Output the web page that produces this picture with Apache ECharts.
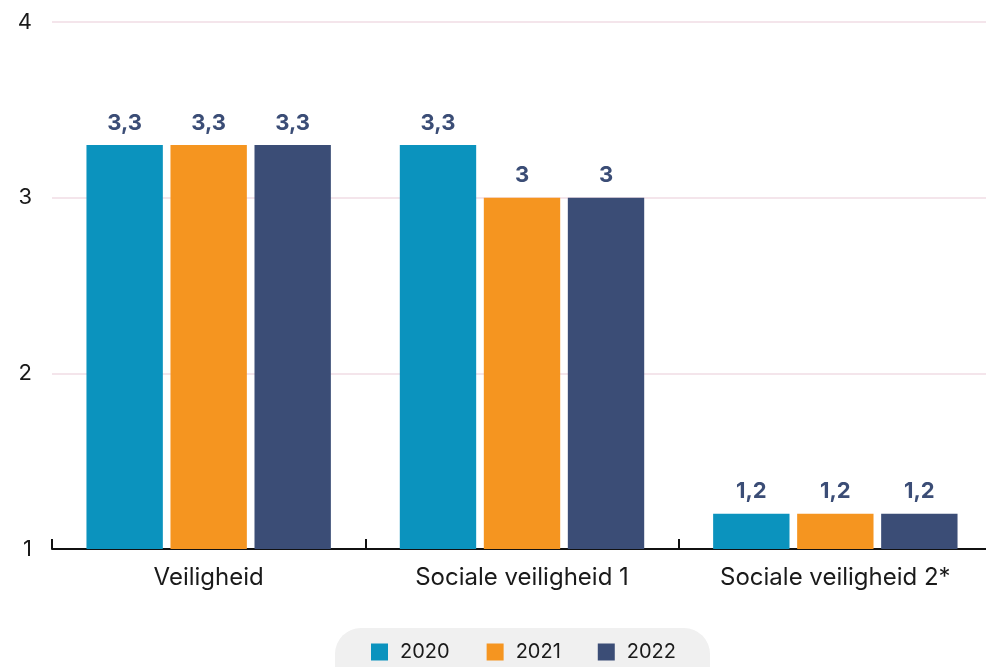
<!DOCTYPE html>
<html><head><meta charset="utf-8">
<script src="https://cdn.jsdelivr.net/npm/echarts@6/dist/echarts.min.js"></script>
<style>html,body{margin:0;padding:0;background:#fff}#c{width:986px;height:667px}</style>
</head><body><div id="c"></div>
<script>
const categories = ['Veiligheid', 'Sociale veiligheid 1', 'Sociale veiligheid 2*'];
const seriesNames = ['2020', '2021', '2022'];
const values2020 = [3.3, 3.3, 1.2];
const values2021 = [3.3, 3.0, 1.2];
const values2022 = [3.3, 3.0, 1.2];
const yTicks = [1, 2, 3, 4];
const colors = ['#0b93be', '#f59520', '#3b4d76'];

const FONT = 'Inter, "Noto Sans", sans-serif';
const allValues = [values2020, values2021, values2022];
const chart = echarts.init(document.getElementById('c'));
chart.setOption({
  animation: false,
  textStyle: { fontFamily: FONT },
  grid: { left: 52, width: 940, top: 22, bottom: 118, containLabel: false, outerBoundsMode: 'none' },
  legend: {
    top: 628, left: 335,
    backgroundColor: '#f0f0f0', borderRadius: 26,
    padding: [14, 34, 30, 36],
    itemWidth: 17, itemHeight: 17, itemGap: 37,
    icon: 'rect',
    textStyle: { fontSize: 20, color: '#1a1a1a', fontFamily: FONT, padding: [0, 0, 0, 7] },
    data: seriesNames
  },
  xAxis: {
    type: 'category', data: categories,
    axisLine: { lineStyle: { color: '#111', width: 2 } },
    axisTick: { show: true, inside: true, length: 10, lineStyle: { color: '#111', width: 2 } },
    axisLabel: { fontSize: 24, color: '#1a1a1a', margin: 17, fontFamily: FONT }
  },
  yAxis: {
    type: 'value', min: yTicks[0], max: yTicks[yTicks.length - 1], interval: 1,
    axisLine: { show: false }, axisTick: { show: false },
    axisLabel: { fontSize: 22, color: '#1a1a1a', margin: 20, fontFamily: FONT },
    splitLine: { lineStyle: { color: '#f0dde5', width: 1.5 } }
  },
  series: seriesNames.map((n, i) => ({
    name: n, type: 'bar', data: allValues[i],
    itemStyle: { color: colors[i] },
    barGap: '10%', barCategoryGap: '22%',
    label: {
      show: true, position: 'top', distance: 11,
      fontSize: 22, fontWeight: 'bold', color: '#3b4d76', fontFamily: FONT,
      formatter: p => String(p.value).replace('.', ',')
    }
  }))
});
</script></body></html>
